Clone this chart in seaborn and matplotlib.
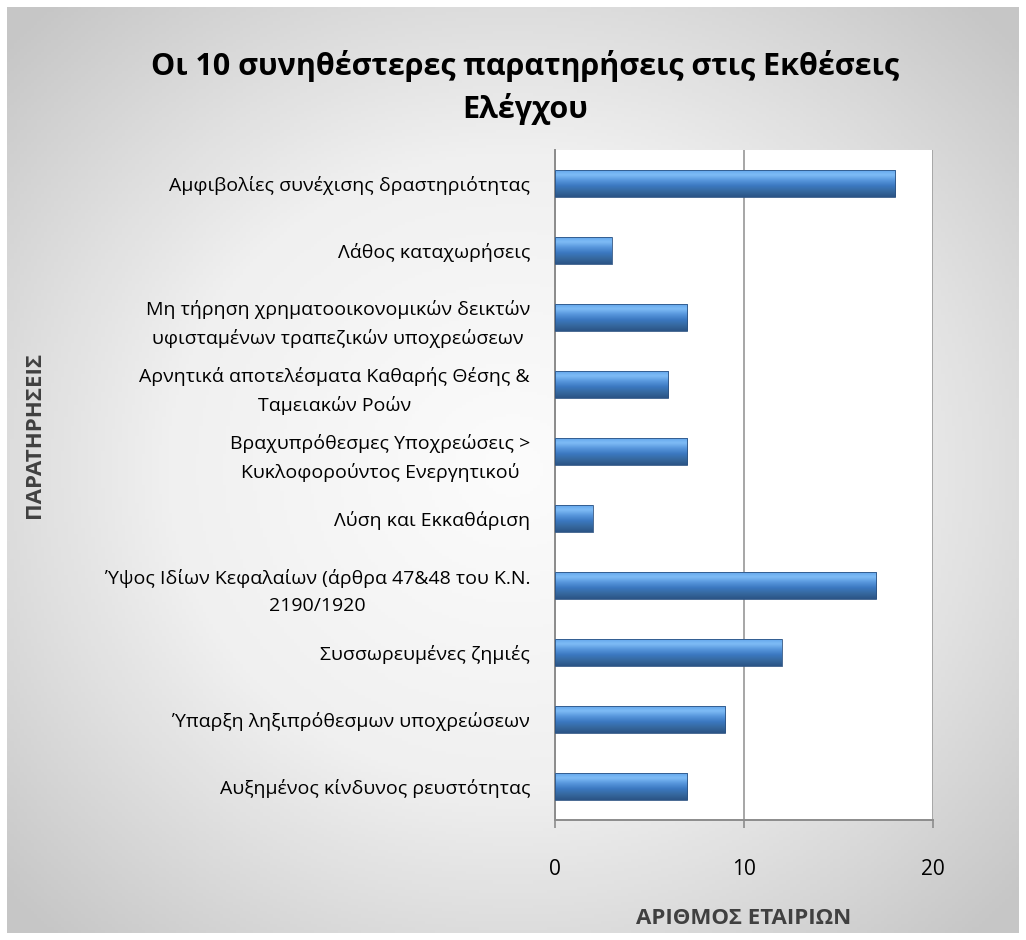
import numpy as np
import pandas as pd
import matplotlib
matplotlib.use("Agg")
import matplotlib.pyplot as plt
from matplotlib.colors import LinearSegmentedColormap
import seaborn as sns

categories = [
    "Αμφιβολίες συνέχισης δραστηριότητας",
    "Λάθος καταχωρήσεις",
    "Μη τήρηση χρηματοοικονομικών δεικτών\nυφισταμένων τραπεζικών υποχρεώσεων",
    "Αρνητικά αποτελέσματα Καθαρής Θέσης &\nΤαμειακών Ροών",
    "Βραχυπρόθεσμες Υποχρεώσεις >\nΚυκλοφορούντος Ενεργητικού",
    "Λύση και Εκκαθάριση",
    "Ύψος Ιδίων Κεφαλαίων (άρθρα 47&48 του Κ.Ν.\n2190/1920",
    "Συσσωρευμένες ζημιές",
    "Ύπαρξη ληξιπρόθεσμων υποχρεώσεων",
    "Αυξημένος κίνδυνος ρευστότητας",
]
counts = [18, 3, 7, 6, 7, 2, 17, 12, 9, 7]
x_ticks = [0, 10, 20]

title = "Οι 10 συνηθέστερες παρατηρήσεις στις Εκθέσεις\nΕλέγχου"
xlabel = "ΑΡΙΘΜΟΣ ΕΤΑΙΡΙΩΝ"
ylabel = "ΠΑΡΑΤΗΡΗΣΕΙΣ"

sns.set_theme(style="white")
plt.rcParams["font.family"] = ["Open Sans", "DejaVu Sans"]

fig = plt.figure(figsize=(10.26, 9.40), dpi=100)
fig.patch.set_facecolor("white")

# background gradient panel
bg = fig.add_axes([0.007, 0.007, 0.986, 0.986], zorder=0)
yy, xx = np.mgrid[-1:1:300j, -1:1:300j]
r = np.sqrt(xx**2 * 0.9 + yy**2 * 0.9)
bg.imshow(r, cmap=LinearSegmentedColormap.from_list("g", ["#fcfcfc", "#f0f0f0", "#c6c6c6"]),
          extent=[0, 1, 0, 1], aspect="auto", vmin=0, vmax=1.3)
bg.set_axis_off()

ax = fig.add_axes([0.541, 0.1277, 0.3684, 0.7128], zorder=1)
df = pd.DataFrame({"cat": categories, "n": counts})
sns.barplot(data=df, x="n", y="cat", orient="h", color="#3f7cc4", width=0.41,
            ax=ax, saturation=1)

grad = LinearSegmentedColormap.from_list(
    "bar", ["#5fa3ea", "#7fbcf6", "#5796dc", "#3b78c0", "#36699f", "#2b5486"])
for p in ax.patches:
    x0, y0 = p.get_x(), p.get_y()
    w, h = p.get_width(), p.get_height()
    img = np.linspace(0, 1, 50).reshape(-1, 1)
    im = ax.imshow(img, cmap=grad, extent=[x0, x0 + w, y0 + h, y0],
                   aspect="auto", zorder=3, interpolation="bicubic")
    im.set_clip_path(p)
    p.set_edgecolor("#2c5282")
    p.set_linewidth(0.6)
    p.set_zorder(3.5)
    p.set_facecolor("none")

ax.set_facecolor("white")
ax.set_xlim(0, 20)
ax.set_ylim(9.5, -0.5)
ax.set_xticks(x_ticks)
ax.set_xticklabels([str(t) for t in x_ticks], fontsize=15, color="black")
ax.tick_params(axis="x", length=6, width=1.2, color="#8c8c8c", pad=22, bottom=True)
ax.tick_params(axis="y", length=0, pad=18, labelsize=14, labelcolor="black")
for lab in ax.get_yticklabels():
    lab.set_multialignment("center")
    lab.set_linespacing(1.65)
ax.grid(axis="x", color="#a6a6a6", linewidth=1.4, zorder=1)
ax.set_axisbelow(True)
for s in ["top", "right"]:
    ax.spines[s].set_visible(False)
for s in ["left", "bottom"]:
    ax.spines[s].set_color("#8c8c8c")
    ax.spines[s].set_linewidth(1.4)

ax.set_xlabel(xlabel, fontsize=16, fontweight="bold", color="#404040", labelpad=20)
ax.set_ylabel("")
fig.text(0.034, 0.537, ylabel, rotation=90, fontsize=16, fontweight="bold",
         color="#404040", ha="center", va="center")
fig.text(0.512, 0.907, title, fontsize=22, fontweight="bold", ha="center",
         va="center", linespacing=1.45, color="black")

fig.savefig("out.png", dpi=100)
